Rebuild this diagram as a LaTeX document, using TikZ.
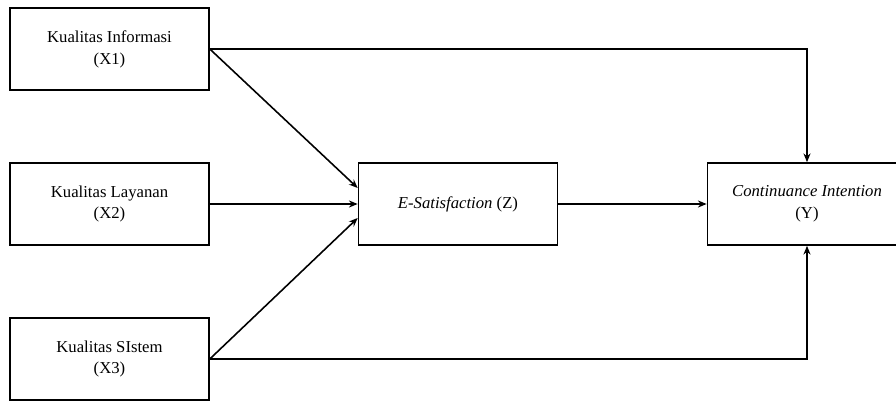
\documentclass[tikz,border=0pt]{standalone}
\usepackage{fontspec}
\setmainfont{Liberation Serif}
\usetikzlibrary{arrows.meta}
\begin{document}
\begin{tikzpicture}[
    varbox/.style={draw, line width=0.9pt, minimum width=3.98cm, minimum height=1.64cm,
        inner sep=0pt, align=center, font=\fontsize{9.5}{12.5}\selectfont},
    link/.style={-{Stealth[length=5pt,width=4pt]}, line width=0.9pt}
]
    \useasboundingbox (0,0) rectangle (17.92,8.02);
    % Draw variables
    \node[varbox] (x1) at (2.19,7.04) {Kualitas Informasi\\(X1)};
    \node[varbox] (x2) at (2.19,3.94) {Kualitas Layanan\\(X2)};
    \node[varbox] (x3) at (2.19,0.84) {Kualitas SIstem\\(X3)};
    \node[varbox] (z) at (9.16,3.94) {\textit{E-Satisfaction} (Z)};
    \node[varbox] (y) at (16.14,3.94) {\textit{Continuance Intention}\\(Y)};

    % Draw paths
    \draw[link] (x1.east) -- ([yshift=0.32cm]z.west);
    \draw[link] (x2.east) -- (z.west);
    \draw[link] (x3.east) -- ([yshift=-0.28cm]z.west);
    \draw[link] (z.east) -- (y.west);
    \draw[link] (x1.east) -| (y.north);
    \draw[link] (x3.east) -| (y.south);
\end{tikzpicture}
\end{document}
